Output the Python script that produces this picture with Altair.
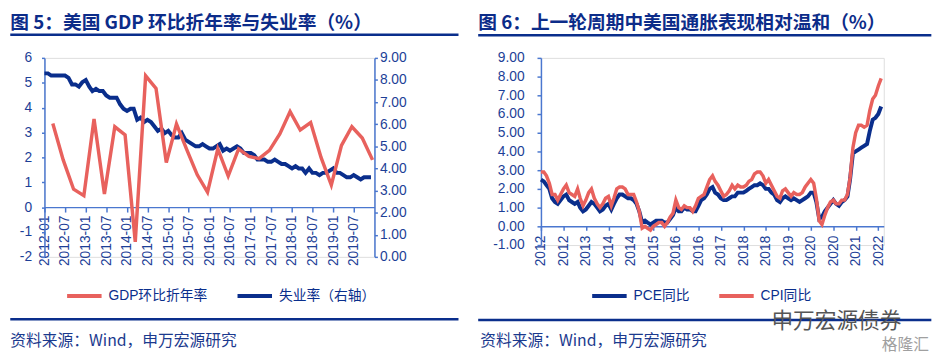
import altair as alt
import pandas as pd

# ---------------- data : left panel ----------------
gdp_years = [2012, 2013, 2014, 2015, 2016, 2017, 2018, 2019]
gdp_qmonths = [3, 6, 9, 12]
gdp_values = [3.36, 1.90, 0.72, 0.46,
              3.54, 0.53, 3.23, 2.90,
              -1.40, 5.28, 4.77, 1.79,
              3.34, 2.30, 1.30, 0.60,
              2.34, 1.25, 2.34, 2.04,
              1.95, 2.28, 2.94, 3.84,
              3.10, 3.40, 2.00, 0.89,
              2.48, 3.23, 2.78, 1.90]
unemp_values = [8.3, 8.3, 8.2, 8.2, 8.2, 8.2, 8.2, 8.1, 7.8, 7.8, 7.7, 7.9,
                8.0, 7.7, 7.5, 7.6, 7.5, 7.5, 7.3, 7.2, 7.2, 7.2, 6.9, 6.7,
                6.6, 6.7, 6.7, 6.2, 6.3, 6.1, 6.2, 6.1, 5.9, 5.7, 5.8, 5.6,
                5.7, 5.5, 5.4, 5.4, 5.6, 5.3, 5.2, 5.1, 5.0, 5.0, 5.1, 5.0,
                4.9, 4.9, 5.0, 5.1, 4.8, 4.9, 4.8, 4.9, 5.0, 4.9, 4.7, 4.7,
                4.7, 4.6, 4.4, 4.4, 4.4, 4.3, 4.3, 4.4, 4.3, 4.2, 4.2, 4.1,
                4.0, 4.1, 4.0, 4.0, 3.8, 4.0, 3.8, 3.8, 3.7, 3.8, 3.8, 3.9,
                4.0, 3.8, 3.8, 3.7, 3.6, 3.6, 3.7, 3.6, 3.5, 3.6, 3.6, 3.6]
left_ticks = ["2012-01", "2012-07", "2013-01", "2013-07", "2014-01", "2014-07",
              "2015-01", "2015-07", "2016-01", "2016-07", "2017-01", "2017-07",
              "2018-01", "2018-07", "2019-01", "2019-07"]
left_series = ["GDP环比折年率", "失业率（右轴）"]
left_title = "图 5：美国 GDP 环比折年率与失业率（%）"

# ---------------- data : right panel ----------------
pce_values = [2.5, 2.4, 2.2, 2.0, 1.5, 1.3, 1.2, 1.4, 1.6, 1.7, 1.4, 1.3,
              1.2, 1.3, 1.0, 0.8, 0.9, 1.1, 1.3, 1.2, 1.0, 0.8, 0.9, 1.1,
              1.2, 0.9, 1.2, 1.5, 1.7, 1.7, 1.6, 1.5, 1.5, 1.4, 1.2, 0.8,
              0.2, 0.3, 0.2, 0.1, 0.2, 0.3, 0.3, 0.3, 0.2, 0.2, 0.4, 0.6,
              1.0, 0.8, 0.8, 1.0, 0.9, 0.9, 0.8, 0.8, 1.1, 1.4, 1.5, 1.7,
              2.0, 2.1, 1.8, 1.7, 1.5, 1.4, 1.4, 1.5, 1.6, 1.6, 1.8, 1.8,
              1.8, 1.9, 2.0, 2.1, 2.2, 2.2, 2.3, 2.2, 2.0, 2.0, 1.8, 1.7,
              1.4, 1.3, 1.5, 1.6, 1.5, 1.4, 1.5, 1.4, 1.3, 1.4, 1.5, 1.6,
              1.8, 1.8, 1.3, 0.4, 0.5, 0.8, 1.0, 1.2, 1.4, 1.2, 1.1, 1.3,
              1.4, 1.6, 2.5, 3.9, 4.0, 4.1, 4.2, 4.3, 4.4, 5.1, 5.7, 5.8,
              6.0, 6.4]
cpi_values = [2.9, 2.9, 2.7, 2.3, 1.7, 1.7, 1.4, 1.7, 2.0, 2.2, 1.8, 1.7,
              1.6, 2.0, 1.5, 1.1, 1.4, 1.8, 2.0, 1.5, 1.2, 1.0, 1.2, 1.5,
              1.6, 1.1, 1.5, 2.0, 2.1, 2.1, 2.0, 1.7, 1.7, 1.7, 1.3, 0.8,
              -0.1, 0.0, -0.1, -0.2, 0.0, 0.1, 0.2, 0.2, 0.0, 0.2, 0.5, 0.7,
              1.4, 1.0, 0.9, 1.1, 1.0, 1.0, 0.8, 1.1, 1.5, 1.6, 1.7, 2.1,
              2.5, 2.7, 2.4, 2.2, 1.9, 1.6, 1.7, 1.9, 2.2, 2.0, 2.2, 2.1,
              2.1, 2.2, 2.4, 2.5, 2.8, 2.9, 2.9, 2.7, 2.3, 2.5, 2.2, 1.9,
              1.6, 1.5, 1.9, 2.0, 1.8, 1.6, 1.8, 1.7, 1.7, 1.8, 2.1, 2.3,
              2.5, 2.3, 1.5, 0.3, 0.1, 0.6, 1.0, 1.3, 1.4, 1.2, 1.2, 1.4,
              1.4, 1.7, 2.6, 4.2, 5.0, 5.4, 5.4, 5.3, 5.4, 6.2, 6.8, 7.0,
              7.5, 7.9]
right_ticks = ["2012-01", "2012-09", "2013-05", "2014-01", "2014-09", "2015-05",
               "2016-01", "2016-09", "2017-05", "2018-01", "2018-09", "2019-05",
               "2020-01", "2020-09", "2021-05", "2022-01"]
right_series = ["PCE同比", "CPI同比"]
right_title = "图 6：上一轮周期中美国通胀表现相对温和（%）"

source_text = "资料来源：Wind，申万宏源研究"
watermark_text = "申万宏源债券"
watermark2_text = "格隆汇"

# ---------------- styling ----------------
RED = "#E8615D"
NAVY = "#0A2E8C"
AXIS_C = "#4A77CF"
LABEL_C = "#1D3F97"
TITLE_C = "#0C2C89"
LAT = "Liberation Sans"
CJK = "Noto Sans CJK SC"
MIX = "Liberation Sans, Noto Sans CJK SC"
MINUS = "\u2212"
TITLE_Y = -35.5


def month_dates(start_year, start_month, n, day=1):
    out = []
    y, m = start_year, start_month
    for _ in range(n):
        out.append(f"{y}/{m:02d}/{day:02d}")
        m += 1
        if m > 12:
            m = 1
            y += 1
    return out


def dt(s):
    return alt.DateTime(year=int(s[:4]), month=int(s[5:7]), date=1)


def one(text):
    return pd.DataFrame({"t": [text]})


def deco_text(text, x, y, size, color, weight="normal", font=CJK, align="left"):
    return alt.Chart(one(text)).mark_text(
        align=align, baseline="middle", font=font, fontSize=size,
        fontWeight=weight, color=color
    ).encode(x=alt.value(x), y=alt.value(y), text="t:N")


def deco_rule(x1, x2, y, color=NAVY, width=2.5):
    return alt.Chart(one("r")).mark_rule(color=color, strokeWidth=width).encode(
        x=alt.value(x1), x2=alt.value(x2), y=alt.value(y))


def legend(lx, ly):
    return alt.Legend(
        orient="none", legendX=lx, legendY=ly, direction="horizontal", title=None,
        symbolType="stroke", symbolSize=1225, symbolStrokeWidth=4,
        labelFont=MIX, labelFontSize=14, labelColor=NAVY, labelOffset=5,
        columnPadding=22, padding=0)


# ---------------- left panel ----------------
W1, H1 = 335, 202
gdp_dates = [f"{y}/{m:02d}/15" for y in gdp_years for m in gdp_qmonths]
df_gdp = pd.DataFrame({"date": gdp_dates, "value": gdp_values, "series": left_series[0]})
df_un = pd.DataFrame({"date": month_dates(2012, 1, len(unemp_values)),
                      "value": unemp_values, "series": left_series[1]})

x1 = alt.X("date:T", title=None,
           scale=alt.Scale(domain=[alt.DateTime(year=2012, month=1, date=1),
                                   alt.DateTime(year=2020, month=1, date=1)], nice=False),
           axis=alt.Axis(values=[dt(s) for s in left_ticks], format="%Y-%m",
                         labelAngle=-90, offset=-H1 * 2 / 8, grid=False,
                         domainColor=AXIS_C, domainWidth=1.5, tickColor=AXIS_C,
                         tickWidth=1.5, tickSize=5, labelPadding=3,
                         labelColor=LABEL_C, labelFont=LAT, labelFontSize=14))
color1 = alt.Color("series:N", scale=alt.Scale(domain=left_series, range=[RED, NAVY]),
                   legend=legend(21, 222))

un_line = alt.Chart(df_un).mark_line(strokeWidth=4).encode(
    x=x1,
    y=alt.Y("value:Q", title=None,
            scale=alt.Scale(domain=[0, 9], nice=False, zero=False),
            axis=alt.Axis(orient="right", values=list(range(0, 10)), grid=False,
                          labelExpr="format(datum.value, '.2f')",
                          domainColor=AXIS_C, domainWidth=1.5, tickColor=AXIS_C,
                          tickWidth=1.5, tickSize=3, labelPadding=2,
                          labelColor=LABEL_C, labelFont=LAT, labelFontSize=14)),
    color=color1)

gdp_line = alt.Chart(df_gdp).mark_line(strokeWidth=3.5).encode(
    x=x1,
    y=alt.Y("value:Q", title=None,
            scale=alt.Scale(domain=[-2, 6], nice=False, zero=False),
            axis=alt.Axis(orient="left", values=list(range(-2, 7)), grid=False,
                          labelExpr=f"replace(format(datum.value, 'd'), '{MINUS}', '-')",
                          domainColor=AXIS_C, domainWidth=1.5, tickColor=AXIS_C,
                          tickWidth=1.5, tickSize=3, labelPadding=10,
                          labelColor=LABEL_C, labelFont=LAT, labelFontSize=14)),
    color=color1)

L0 = -34.7
left = alt.layer(
    un_line, gdp_line,
    deco_text(left_title, L0, TITLE_Y, 19, TITLE_C, weight="bold"),
    deco_rule(L0, 420.3, -23.5),
    deco_rule(L0, 420.3, 265.3),
    deco_text(source_text, L0, 287, 16, "#1B3A8E"),
).resolve_scale(y="independent").properties(width=W1, height=H1)

# ---------------- right panel ----------------
W2, H2 = 348, 190
rdates = month_dates(2012, 1, len(cpi_values))
df_pce = pd.DataFrame({"date": rdates, "value": pce_values, "series": right_series[0]})
df_cpi = pd.DataFrame({"date": rdates, "value": cpi_values, "series": right_series[1]})

x2 = alt.X("date:T", title=None,
           scale=alt.Scale(domain=[alt.DateTime(year=2012, month=1, date=1),
                                   alt.DateTime(year=2022, month=3, date=1)], nice=False),
           axis=alt.Axis(values=[dt(s) for s in right_ticks], format="%Y",
                         labelAngle=-90, offset=-H2 * 1 / 10, grid=False,
                         domainColor=AXIS_C, domainWidth=1.5, tickColor=AXIS_C,
                         tickWidth=1.5, tickSize=4, labelPadding=5,
                         labelColor=LABEL_C, labelFont=LAT, labelFontSize=14))
y2 = alt.Y("value:Q", title=None,
           scale=alt.Scale(domain=[-1, 9], nice=False, zero=False),
           axis=alt.Axis(orient="left", values=list(range(-1, 10)), grid=False,
                         labelExpr=f"replace(format(datum.value, '.2f'), '{MINUS}', '-')",
                         domainColor=AXIS_C, domainWidth=1.5, tickColor=AXIS_C,
                         tickWidth=1.5, tickSize=4, labelPadding=13,
                         labelColor=LABEL_C, labelFont=LAT, labelFontSize=14))
color2 = alt.Color("series:N", scale=alt.Scale(domain=right_series, range=[NAVY, RED]),
                   legend=legend(50, 222))

pce_line = alt.Chart(df_pce).mark_line(strokeWidth=4).encode(x=x2, y=y2, color=color2)
cpi_line = alt.Chart(df_cpi).mark_line(strokeWidth=3.5).encode(x=x2, y=y2, color=color2)

R0 = -63.7
right = alt.layer(
    pce_line, cpi_line,
    deco_text(right_title, R0, TITLE_Y, 19, TITLE_C, weight="bold"),
    deco_rule(R0, 396.3, -23),
    deco_rule(R0, 396.3, 266),
    deco_text(source_text, R0 + 2, 287.5, 16, "#1B3A8E"),
    deco_text(watermark_text, 234, 267, 22, "#555555"),
    deco_text(watermark2_text, 346, 292, 16, "#A0A0A0"),
).properties(width=W2, height=H2)

chart = alt.hconcat(left, right, spacing=15).resolve_scale(
    color="independent"
).properties(
    padding={"left": 0, "top": 3, "right": 0, "bottom": 0}
).configure_view(stroke=None).configure(background="white")

chart.save("out.html", embed_options={"renderer": "svg", "actions": False})
